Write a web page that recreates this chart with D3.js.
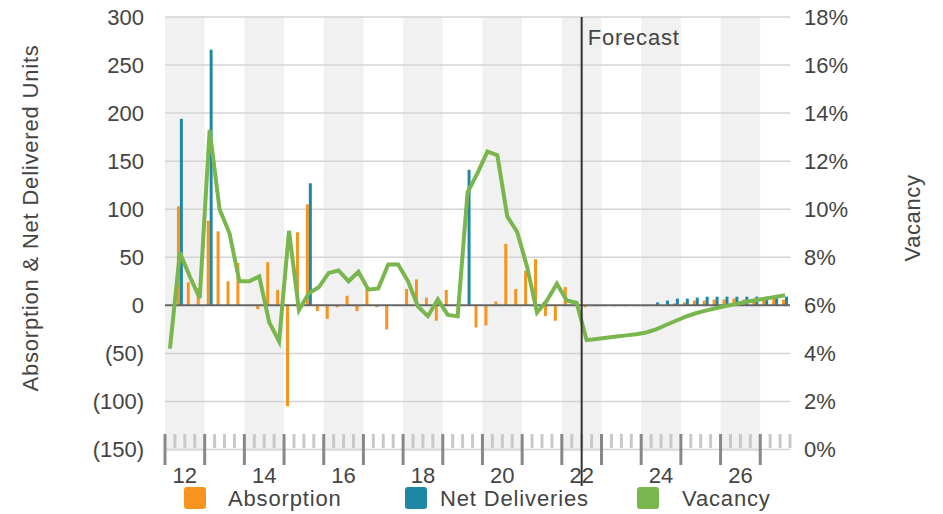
<!DOCTYPE html>
<html><head><meta charset="utf-8">
<script src="https://cdn.jsdelivr.net/npm/d3@7"></script>
<style>
html,body{margin:0;padding:0;background:#fff;}
svg text{font-family:"Liberation Sans",Arial,Helvetica,sans-serif;fill:#444;}
</style></head>
<body>
<svg id="chart" width="943" height="514"></svg>
<script>
// ---- data (quarters 2012 Q1 .. 2027 Q3) ----
const years = d3.range(2012, 2028);
const quarters = [];
years.forEach(y => [1,2,3,4].forEach(q => { if (!(y === 2027 && q === 4)) quarters.push(y + " Q" + q); }));

const absorption = [0,103,24,18, 88,77,25,44, 0,-4,45,16, -105,76,105,-6,
  -14,-2,10,-6, 18,-2,-25,0, 17,27,8,-16, 16,0,0,-23,
  -21,4,64,17, 36,48,-11,-16, 19,0,-2,-1, -1,-1,-1,-1,
  -1,0,0,2, 3,5,5,6, 6,7,6,6, 6,7,6];
const deliveries = [0,194,0,0, 266,0,0,0, 0,0,0,0, 0,0,127,0,
  0,0,0,0, 0,0,0,0, 0,0,0,0, 0,0,141,0,
  0,0,0,0, 0,0,0,0, 0,0,0,0, 0,0,0,0,
  0,3,5,7, 7,8,9,9, 9,9,9,9, 9,9,9];
const vacancy = [4.2,8.2,7.2,6.3, 13.3,10.0,9.0,7.0, 7.0,7.2,5.3,4.5, 9.1,5.8,6.5,6.75,
  7.35,7.45,7.0,7.4, 6.65,6.7,7.7,7.7, 7.0,5.95,5.55,6.25, 5.6,5.55,10.7,11.5,
  12.4,12.25,9.7,9.05, 7.6,5.7,6.2,6.9, 6.2,6.1,4.55,4.6, 4.65,4.7,4.75,4.8,
  4.87,5.0,5.18,5.36, 5.53,5.67,5.78,5.88, 5.97,6.05,6.14,6.21, 6.28,6.35,6.42];
const leftTicks = [300,250,200,150,100,50,0,-50,-100,-150];
const rightTicks = [18,16,14,12,10,8,6,4,2,0];
const yearLabels = ["12","14","16","18","20","22","24","26"];
const forecastStart = "2022 Q3";
const seriesNames = ["Absorption","Net Deliveries","Vacancy"];
const colors = {"Absorption":"#f7941d","Net Deliveries":"#1f87a6","Vacancy":"#7ab64e"};

// ---- layout ----
const L = 165, R = 790, T = 17, B = 449.5;
const svg = d3.select("#chart");

const x = d3.scaleBand().domain(quarters).range([L, R]).paddingInner(0.4).paddingOuter(0.2);
const xs = d3.scaleBand().domain(["Absorption","Net Deliveries"]).range([0, x.bandwidth()]);
const xq = d3.scaleLinear().domain([0, quarters.length]).range([L, R]);
const y = d3.scaleLinear().domain([-150, 300]).range([B, T]);
const y2 = d3.scaleLinear().domain([0, 18]).range([B, T]);

// alternating year bands
svg.append("g").selectAll("rect").data(years.filter((d,i) => i % 2 === 0)).join("rect")
  .attr("x", d => xq((d - 2012) * 4))
  .attr("width", d => Math.min(xq((d - 2012) * 4 + 4), R) - xq((d - 2012) * 4))
  .attr("y", T).attr("height", B - T + 2)
  .attr("fill", "#f1f1f1");

// horizontal gridlines
svg.append("g").selectAll("line").data(leftTicks.filter(d => d !== 0)).join("line")
  .attr("x1", L).attr("x2", R).attr("y1", d => y(d)).attr("y2", d => y(d))
  .attr("stroke", "#d4d4d4").attr("stroke-width", 1.5);

// tick strip
const minorIdx = d3.range(0, quarters.length + 1);
svg.append("g").selectAll("line").data(minorIdx.filter(i => i % 4 !== 0)).join("line")
  .attr("x1", i => xq(i)).attr("x2", i => xq(i)).attr("y1", 434).attr("y2", 448)
  .attr("stroke", "#c9c9c9").attr("stroke-width", 3);
svg.append("g").selectAll("line").data(minorIdx.filter(i => i % 4 === 0)).join("line")
  .attr("x1", i => xq(i)).attr("x2", i => xq(i)).attr("y1", 434).attr("y2", 465)
  .attr("stroke", "#888").attr("stroke-width", 3);

// left axis labels
const fmtL = d => d < 0 ? "(" + Math.abs(d) + ")" : String(d);
svg.append("g").selectAll("text").data(leftTicks).join("text")
  .attr("x", 144).attr("y", d => y(d)).attr("dy", "0.36em")
  .attr("text-anchor", "end").attr("font-size", 22).text(fmtL);

// right axis labels
svg.append("g").selectAll("text").data(rightTicks).join("text")
  .attr("x", 804).attr("y", d => y2(d)).attr("dy", "0.36em")
  .attr("text-anchor", "start").attr("font-size", 22).text(d => d + "%");

// x labels (even years, centred on year band)
svg.append("g").selectAll("text").data(yearLabels).join("text")
  .attr("x", d => xq((+d - 12) * 4 + 2)).attr("y", 483)
  .attr("text-anchor", "middle").attr("font-size", 22).text(d => d);

// axis titles
svg.append("text").attr("transform", "translate(38,218) rotate(-90)")
  .attr("text-anchor", "middle").attr("font-size", 22).attr("letter-spacing", 0.8)
  .text("Absorption & Net Delivered Units");
svg.append("text").attr("transform", "translate(920,218) rotate(-90)")
  .attr("text-anchor", "middle").attr("font-size", 22).attr("letter-spacing", 0.6)
  .text("Vacancy");

// bars
const barG = svg.append("g");
barG.selectAll("rect.abs").data(quarters).join("rect").attr("class", "abs")
  .attr("x", (q) => x(q) + xs("Absorption"))
  .attr("width", xs.bandwidth())
  .attr("y", (q, i) => y(Math.max(0, absorption[i])))
  .attr("height", (q, i) => Math.abs(y(absorption[i]) - y(0)))
  .attr("fill", colors["Absorption"]);
barG.selectAll("rect.del").data(quarters).join("rect").attr("class", "del")
  .attr("x", (q) => x(q) + xs("Net Deliveries"))
  .attr("width", xs.bandwidth())
  .attr("y", (q, i) => y(Math.max(0, deliveries[i])))
  .attr("height", (q, i) => Math.abs(y(deliveries[i]) - y(0)))
  .attr("fill", colors["Net Deliveries"]);

// zero line
svg.append("line").attr("x1", L).attr("x2", R).attr("y1", y(0)).attr("y2", y(0))
  .attr("stroke", "#666").attr("stroke-width", 2);

// vacancy line
const line = d3.line().x((d, i) => x(quarters[i]) + x.bandwidth() / 2).y(d => y2(d));
svg.append("path").datum(vacancy).attr("d", line)
  .attr("fill", "none").attr("stroke", colors["Vacancy"]).attr("stroke-width", 4)
  .attr("stroke-linejoin", "miter");

// forecast line
const fx = xq(quarters.indexOf(forecastStart));
svg.append("line").attr("x1", fx).attr("x2", fx).attr("y1", T).attr("y2", 486)
  .attr("stroke", "#333").attr("stroke-width", 2);
svg.append("text").attr("x", fx + 6).attr("y", 45).attr("font-size", 22)
  .attr("letter-spacing", 0.8).text("Forecast");

// legend
const legX = [184, 405, 637];
const legTextX = [228, 440, 682];
const leg = svg.append("g").selectAll("g").data(seriesNames).join("g")
  .attr("transform", (d, i) => `translate(${legX[i]},487)`);
leg.append("rect").attr("width", 22).attr("height", 22).attr("rx", 3)
  .attr("fill", d => colors[d]);
leg.append("text").attr("x", (d, i) => legTextX[i] - legX[i]).attr("y", 19)
  .attr("font-size", 22).attr("letter-spacing", 0.85).text(d => d);
</script>
</body></html>
